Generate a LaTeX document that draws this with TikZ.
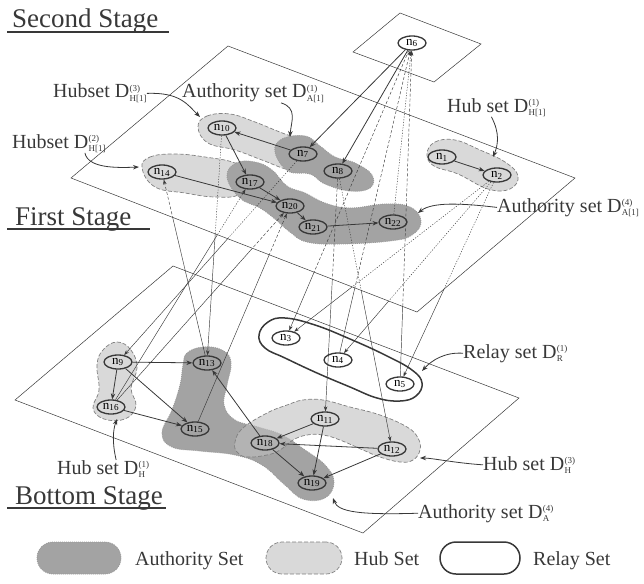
\documentclass[tikz,border=0pt]{standalone}
\usepackage{fontspec}
\setmainfont{Liberation Serif}
\usetikzlibrary{shapes.geometric,arrows.meta}

\definecolor{authgray}{gray}{0.64}
\definecolor{hubgray}{gray}{0.85}
\definecolor{linegray}{gray}{0.22}

% set name with stacked super- and subscript
\newcommand{\dset}[2]{D\kern.3pt{\fontsize{9}{9}\selectfont\setbox0\hbox{(#1)}\setbox2\hbox{#2}%
  \ifdim\wd0>\wd2 \wd2=\wd0\fi\rlap{\raisebox{6.5pt}{\box0}}\raisebox{-3.5pt}{\box2}}}

\tikzset{
  nd/.style={ellipse, draw=linegray, line width=1.3pt, minimum width=28pt, minimum height=14pt, inner sep=0.5pt, font=\fontsize{13}{13}\selectfont},
  plane/.style={draw=linegray, line width=0.5pt},
  hub/.style={fill=hubgray, draw=gray, dash pattern=on 4pt off 2pt, line width=0.7pt},
  auth/.style={fill=authgray, draw=gray!80, dash pattern=on 1pt off 1pt, line width=0.8pt},
  relay/.style={draw=linegray, line width=1.5pt},
  arc/.style={draw=linegray, line width=0.8pt, -{Stealth[length=6pt,width=4.5pt]}},
  link/.style={draw=linegray, line width=0.45pt, -{Stealth[length=5pt,width=3.5pt]}},
  hidden/.style={dash pattern=on 3pt off 2pt},
  dotty/.style={dash pattern=on 1.2pt off 1.5pt},
  note/.style={draw=linegray, line width=0.8pt, -{Stealth[length=6pt,width=4.5pt]}},
  lbl/.style={inner sep=0pt, text=linegray, font=\fontsize{20}{22}\selectfont},
  stage/.style={inner sep=0pt, text=linegray, font=\fontsize{27}{29}\selectfont},
  uline/.style={draw=linegray, line width=1.5pt},
  uppart/.style={insert path={(0,0) -- (644,0) -- (644,178) -- (575,178) -- (417,312) -- (71,178) -- (0,178) -- cycle}},
  lowpart/.style={insert path={(0,178) -- (71,178) -- (417,312) -- (575,178) -- (644,178) -- (644,583) -- (0,583) -- cycle}}
}

\begin{document}
\begin{tikzpicture}[x=1pt,y=-1pt]
    \useasboundingbox (0,0) rectangle (644,583);

    % Draw the three stage planes
    \draw[plane] (353,52) -- (400,13) -- (481,44) -- (434,82) -- cycle;
    \draw[plane] (228,46) -- (575,178) -- (417,312) -- (71,178) -- cycle;
    \draw[plane] (173,266) -- (519,398) -- (363,533) -- (15,400) -- cycle;

    % Sets of the first stage
    \draw[hub] plot[smooth cycle, tension=0.7] coordinates {(198,127) (207,116) (230,114) (255,122) (285,134) (310,142) (322,156) (315,170) (290,170) (262,160) (235,150) (208,143)};
    \draw[hub] plot[smooth cycle, tension=0.7] coordinates {(142,168) (150,157) (175,154) (205,157) (235,163) (250,175) (240,194) (215,197) (185,193) (155,187)};
    \draw[hub] plot[smooth cycle, tension=0.7] coordinates {(427,154) (435,142) (455,140) (480,150) (505,162) (518,176) (510,189) (488,189) (458,174) (434,166)};
    \draw[auth] plot[smooth cycle, tension=0.7] coordinates {(275,152) (282,139) (305,136) (320,146) (335,157) (355,163) (372,175) (370,188) (350,191) (325,184) (310,174) (288,171)};
    \draw[auth] plot[smooth cycle, tension=0.7] coordinates {(227,177) (236,163) (255,162) (272,170) (287,186) (305,193) (325,203) (350,208) (385,204) (410,207) (421,221) (412,235) (390,241) (340,244) (307,242) (290,232) (275,219) (260,208) (240,198)};

    % Sets of the bottom stage
    \draw[auth] plot[smooth cycle, tension=0.7] coordinates {(187,353) (203,347) (222,350) (231,362) (227,385) (224,405) (235,420) (258,427) (282,435) (305,450) (325,465) (334,482) (325,498) (303,499) (285,485) (262,465) (235,455) (200,451) (172,447) (162,433) (172,410) (180,385) (183,365)};
    \draw[hub] plot[smooth cycle, tension=0.7] coordinates {(117,342) (131,350) (137,368) (131,388) (136,406) (125,419) (104,419) (93,408) (99,390) (97,365) (103,350)};
    \draw[hub, fill=black!25, fill opacity=0.6] plot[smooth cycle, tension=0.7] coordinates {(235,442) (243,428) (267,413) (287,405) (303,400) (323,400) (350,407) (380,415) (407,427) (418,438) (420,450) (413,460) (400,462) (380,457) (363,450) (340,440) (323,435) (307,435) (293,440) (280,450) (267,455) (247,457) (237,452)};
    \draw[relay] plot[smooth cycle, tension=0.7] coordinates {(259,335) (268,322) (285,318) (315,325) (350,339) (385,355) (412,370) (422,383) (416,396) (400,401) (377,398) (350,387) (317,373) (285,358) (265,348)};

    % Place the nodes
    \node[nd] (n6) at (412,43) {n\textsubscript{6}};
    \node[nd] (n10) at (222,128) {n\textsubscript{10}};
    \node[nd] (n7) at (303,154) {n\textsubscript{7}};
    \node[nd] (n8) at (338,171) {n\textsubscript{8}};
    \node[nd] (n14) at (162,172) {n\textsubscript{14}};
    \node[nd] (n17) at (250,182) {n\textsubscript{17}};
    \node[nd] (n20) at (290,206) {n\textsubscript{20}};
    \node[nd] (n21) at (313,227) {n\textsubscript{21}};
    \node[nd] (n22) at (393,222) {n\textsubscript{22}};
    \node[nd] (n1) at (442,157) {n\textsubscript{1}};
    \node[nd] (n2) at (497,175) {n\textsubscript{2}};
    \node[nd] (n3) at (286,338) {n\textsubscript{3}};
    \node[nd] (n4) at (338,360) {n\textsubscript{4}};
    \node[nd] (n5) at (400,384) {n\textsubscript{5}};
    \node[nd] (n9) at (118,362) {n\textsubscript{9}};
    \node[nd] (n16) at (111,407) {n\textsubscript{16}};
    \node[nd] (n13) at (207,363) {n\textsubscript{13}};
    \node[nd] (n15) at (195,429) {n\textsubscript{15}};
    \node[nd] (n18) at (265,443) {n\textsubscript{18}};
    \node[nd] (n11) at (325,419) {n\textsubscript{11}};
    \node[nd] (n12) at (392,449) {n\textsubscript{12}};
    \node[nd] (n19) at (312,483) {n\textsubscript{19}};

    % Links between the stages, hidden where under the first stage
    \foreach \a/\b in {n7/n9, n10/n13, n16/n17, n8/n12, n2/n3, n2/n4, n2/n5, n22/n6} {
        \begin{scope}
            \clip[uppart];
            \draw[link, dotty] (\a) -- (\b);
        \end{scope}
        \begin{scope}
            \clip[lowpart];
            \draw[link] (\a) -- (\b);
        \end{scope}
    }
    \foreach \a/\b in {n13/n14, n16/n20, n15/n20, n8/n11, n6/n3, n4/n6, n5/n6} {
        \begin{scope}
            \clip[uppart];
            \draw[link, hidden] (\a) -- (\b);
        \end{scope}
        \begin{scope}
            \clip[lowpart];
            \draw[link] (\a) -- (\b);
        \end{scope}
    }

    % Links inside the stages
    \foreach \a/\b in {n6/n7, n6/n8, n7/n10, n10/n17, n14/n20, n17/n20, n20/n21, n21/n22, n1/n2,
                       n9/n16, n9/n13, n9/n15, n16/n15, n18/n13, n11/n18, n12/n18, n11/n19, n18/n19, n12/n19}
        \draw[arc] (\a) -- (\b);

    % Stage titles
    \node[stage, anchor=base west] (st2) at (12,28) {Second Stage};
    \node[stage, anchor=base west] (st1) at (15,225) {First Stage};
    \node[stage, anchor=base west] (st0) at (15,504) {Bottom Stage};
    \draw[uline] ([shift={(-5,4)}]st2.base west) -- ([shift={(10,4)}]st2.base east);
    \draw[uline] ([shift={(-8,4)}]st1.base west) -- ([shift={(18,4)}]st1.base east);
    \draw[uline] ([shift={(-8,4)}]st0.base west) -- ([shift={(3,4)}]st0.base east);

    % Set labels and their pointers
    \node[lbl, anchor=base west] (lh3) at (53,98) {Hubset \dset{3}{H[1]}};
    \node[lbl, anchor=base west] (la1) at (182,98) {Authority set \dset{1}{A[1]}};
    \node[lbl, anchor=base west] (lh2) at (12,148) {Hubset \dset{2}{H[1]}};
    \node[lbl, anchor=base west] (lh1) at (447,112) {Hub set \dset{1}{H[1]}};
    \node[lbl, anchor=base west] (la4) at (497,212) {Authority set \dset{4}{A[1]}};
    \node[lbl, anchor=base west] (lr) at (463,358) {Relay set \dset{1}{R}};
    \node[lbl, anchor=base west] (lhb3) at (483,470) {Hub set \dset{3}{H}};
    \node[lbl, anchor=base west] (lab4) at (418,518) {Authority set \dset{4}{A}};
    \node[lbl, anchor=base west] (lhb1) at (57,474) {Hub set \dset{1}{H}};

    \coordinate (th3) at (200,117);
    \coordinate (ta1) at (290,137);
    \coordinate (th2) at (139,167);
    \coordinate (th1) at (493,157);
    \coordinate (ta4) at (418,213);
    \coordinate (tr) at (422,371);
    \coordinate (thb3) at (420,458);
    \coordinate (tab4) at (333,498);
    \coordinate (thb1) at (117,419);

    \draw[note] (lh3.east) .. controls (180,92) and (188,105) .. (th3);
    \draw[note] ([xshift=28pt]la1.south) .. controls (298,108) and (291,122) .. (ta1);
    \draw[note] ([xshift=26pt]lh2.south) .. controls (88,168) and (115,168) .. (th2);
    \draw[note] ([xshift=-5pt]lh1.south) .. controls (500,133) and (498,145) .. (th1);
    \draw[note] (la4.west) .. controls (460,203) and (432,202) .. (ta4);
    \draw[note] (lr.west) .. controls (445,352) and (432,360) .. (tr);
    \draw[note] (lhb3.west) .. controls (455,463) and (432,458) .. (thb3);
    \draw[note] (lab4.west) .. controls (360,515) and (338,512) .. (tab4);
    \draw[note] ([xshift=13pt]lhb1.north) .. controls (112,442) and (113,430) .. (thb1);

    % Legend
    \node[auth, rounded corners=16pt, minimum width=84pt, minimum height=32pt] (kauth) at (79,558) {};
    \node[hub, rounded corners=16pt, minimum width=76pt, minimum height=32pt] (khub) at (304,558) {};
    \node[relay, rounded corners=16pt, minimum width=80pt, minimum height=32pt] (krelay) at (480,558) {};
    \node[lbl, anchor=base west] (tauth) at (135,565) {Authority Set};
    \node[lbl, anchor=base west] (thub) at (354,565) {Hub Set};
    \node[lbl, anchor=base west] (trelay) at (533,565) {Relay Set};
\end{tikzpicture}
\end{document}
